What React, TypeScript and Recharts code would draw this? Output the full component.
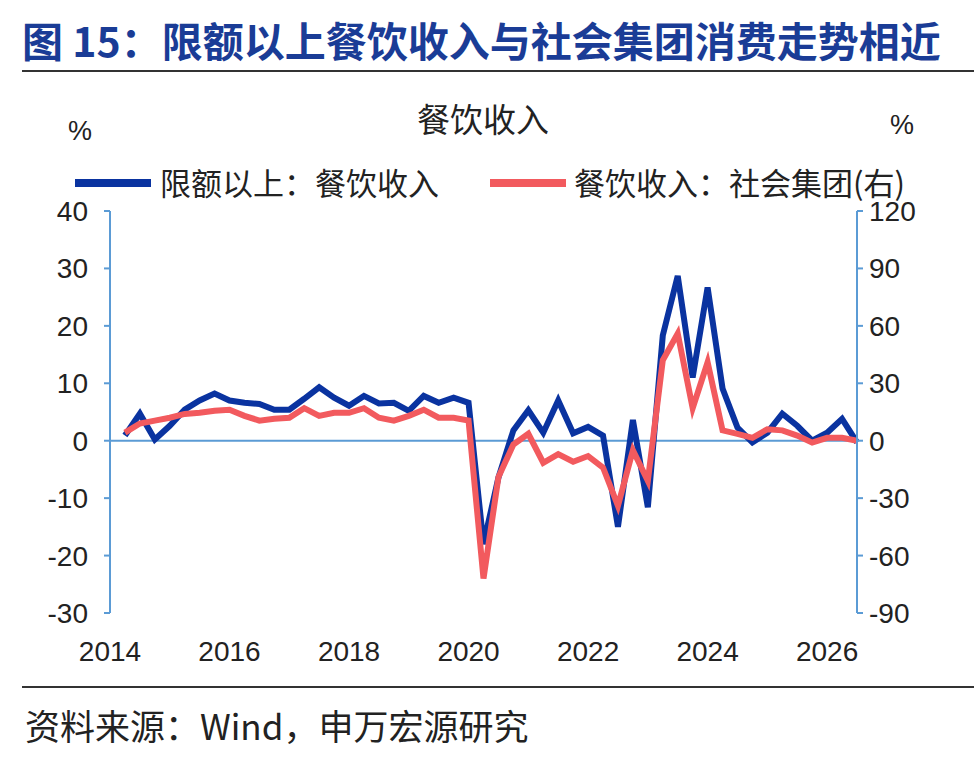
import { LineChart, Line, XAxis, YAxis, ReferenceLine } from "recharts";

const startYear = 2014.25;
const restaurantAbove = [
  0.9, 4.7, 0.2, 2.6, 5.4, 7, 8.2, 7, 6.6, 6.4, 5.4, 5.4, 7.3, 9.3, 7.5, 6.1, 7.8, 6.5, 6.6, 5.2,
  7.8, 6.6, 7.5, 6.6, -18, -6.4, 1.8, 5.3, 1.4, 7, 1.3, 2.4, 0.9, -15, 3.6, -11.6, 18.3, 28.7, 11, 26.7,
  9.1, 2.3, -0.3, 1.4, 4.7, 2.6, 0, 1.4, 3.8, -0.3,
];
const groupConsumption = [
  4.2, 9, 10.5, 12, 14, 14.6, 15.7, 16.2, 13, 10.5, 11.5, 12, 17, 13, 14.6, 14.6, 17, 12, 10.5, 13,
  16.2, 12, 12, 10.5, -72, -19, -2, 3.6, -11.5, -7, -11, -8, -14, -34, -5, -21, 42, 56, 17, 41,
  5.4, 3.6, 1.5, 6, 5.4, 2.7, -1, 1.5, 1.5, 0,
];
const yearTicks = [2014, 2016, 2018, 2020, 2022, 2024, 2026];
const leftTicks = [-30, -20, -10, 0, 10, 20, 30, 40];
const rightTicks = [-90, -60, -30, 0, 30, 60, 90, 120];

const data = restaurantAbove.map((v, i) => ({
  t: startYear + i * 0.25,
  above: v,
  group: groupConsumption[i],
}));

const axisBlue = "#5b9bd5";
const font = "'Liberation Sans', Arial, 'Noto Sans CJK SC', sans-serif";
const cjk = "'Noto Sans CJK SC', sans-serif";

export default function App() {
  return (
    <div style={{ position: "absolute", left: 0, top: 0, width: 974, height: 758, background: "#fff", fontFamily: font, overflow: "hidden" }}>
      <div style={{ position: "absolute", left: 22, top: 14, fontSize: 41, fontWeight: "bold", color: "#1a3c96", fontFamily: cjk, lineHeight: "50px", whiteSpace: "nowrap" }}>
        图 15：限额以上餐饮收入与社会集团消费走势相近
      </div>
      <div style={{ position: "absolute", left: 22, right: 0, top: 70, height: 2, background: "#333" }} />
      <div style={{ position: "absolute", left: 0, width: 966, top: 94, textAlign: "center", fontSize: 33, color: "#222", fontFamily: cjk }}>
        餐饮收入
      </div>
      <div style={{ position: "absolute", left: 68, top: 116, fontSize: 27, color: "#222" }}>%</div>
      <div style={{ position: "absolute", left: 890, top: 110, fontSize: 27, color: "#222" }}>%</div>
      <div style={{ position: "absolute", left: 75, top: 179, width: 76, height: 8, background: "#0a33a0" }} />
      <div style={{ position: "absolute", left: 160, top: 160, fontSize: 31, color: "#222", fontFamily: cjk, whiteSpace: "nowrap", lineHeight: "44px" }}>限额以上：餐饮收入</div>
      <div style={{ position: "absolute", left: 490, top: 179, width: 76, height: 8, background: "#f25a5e" }} />
      <div style={{ position: "absolute", left: 574, top: 160, fontSize: 31, color: "#222", fontFamily: cjk, whiteSpace: "nowrap", lineHeight: "44px" }}>餐饮收入：社会集团(右)</div>
      <div style={{ position: "absolute", left: 22, right: 0, top: 686, height: 2, background: "#333" }} />
      <div style={{ position: "absolute", left: 25, top: 699, fontSize: 35, color: "#222", fontFamily: cjk, whiteSpace: "nowrap" }}>
        资料来源：Wind，申万宏源研究
      </div>
      <div style={{ position: "absolute", left: 0, top: 0 }}>
        <LineChart width={974} height={758} data={data} margin={{ top: 211, right: 57, bottom: 105, left: 50 }}>
          <XAxis
            type="number"
            dataKey="t"
            domain={[2014, 2026.5]}
            ticks={yearTicks}
            axisLine={false}
            tickLine={false}
            height={40}
            tick={{ fontSize: 28, fill: "#222", dy: 20 }}
          />
          <YAxis
            yAxisId="l"
            domain={[-30, 40]}
            ticks={leftTicks}
            width={60}
            stroke={axisBlue}
            strokeWidth={2}
            tickSize={6}
            tick={{ fontSize: 28, fill: "#222", dx: -14 }}
          />
          <YAxis
            yAxisId="r"
            orientation="right"
            domain={[-90, 120]}
            ticks={rightTicks}
            width={60}
            stroke={axisBlue}
            strokeWidth={2}
            tickSize={6}
            tick={{ fontSize: 28, fill: "#222", dx: 4 }}
          />
          <ReferenceLine yAxisId="l" y={0} stroke={axisBlue} strokeWidth={2} />
          <Line yAxisId="l" dataKey="above" stroke="#0a33a0" strokeWidth={6} dot={false} isAnimationActive={false} />
          <Line yAxisId="r" dataKey="group" stroke="#f25a5e" strokeWidth={6} dot={false} isAnimationActive={false} />
        </LineChart>
      </div>
    </div>
  );
}
